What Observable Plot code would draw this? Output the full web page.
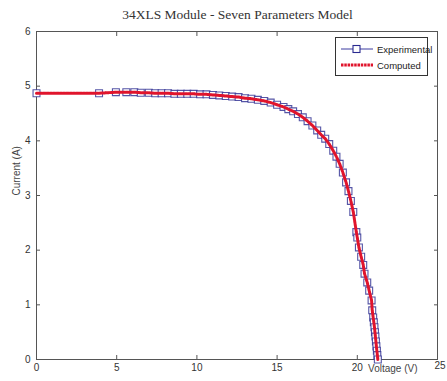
<!DOCTYPE html>
<html><head><meta charset="utf-8">
<script src="https://cdn.jsdelivr.net/npm/d3@7"></script>
<script src="https://cdn.jsdelivr.net/npm/@observablehq/plot@0.6"></script>
<style>
body{margin:0;background:#fff;width:447px;height:381px;overflow:hidden;position:relative;font-family:"Liberation Sans",Arial,sans-serif}
#title{height:24px;line-height:30px;text-align:center;font-family:"Liberation Serif","Times New Roman",serif;font-size:13.5px;color:#333;padding-left:28px}
#legend{position:absolute;left:335px;top:37px;width:93px;height:39px;border:1px solid #333;background:#fff;box-sizing:border-box;font-size:9.5px;color:#222}
#legend .row{position:absolute;left:4px;height:14px;display:flex;align-items:center}
#legend svg{margin-right:3px}
</style></head><body>
<div id="title">34XLS Module - Seven Parameters Model</div>
<div id="chart"></div>
<div id="legend">
 <div class="row" style="top:4px"><svg width="34" height="12"><line x1="1" y1="6" x2="33" y2="6" stroke="#3a3aa0" stroke-width="1"/><rect x="13" y="2.5" width="7" height="7" fill="#fff" stroke="#2a2a90" stroke-width="1.1"/></svg><span>Experimental</span></div>
 <div class="row" style="top:20px"><svg width="34" height="12"><line x1="1" y1="6" x2="33" y2="6" stroke="#e0142c" stroke-width="3" stroke-dasharray="2.5,0.8"/></svg><span>Computed</span></div>
</div>
<script>
const voltage = [0, 3.9, 4.95, 5.6, 6.1, 6.5, 7.0, 7.4, 7.8, 8.2, 8.6, 9.0, 9.4, 9.8, 10.2, 10.6, 11.0, 11.4, 11.8, 12.2, 12.6, 13.0, 13.4, 13.8, 14.2, 14.6, 15.0, 15.4, 15.7, 16.0, 16.3, 16.6, 16.9, 17.2, 17.5, 17.75, 18.0, 18.25, 18.5, 18.7, 18.9, 19.1, 19.3, 19.45, 19.6, 19.75, 19.94, 20.0, 20.1, 20.24, 20.37, 20.45, 20.62, 20.74, 20.89, 20.93, 20.99, 21.03, 21.07, 21.1, 21.13, 21.16, 21.19, 21.22, 21.25, 21.28];
const current = [4.87, 4.87, 4.89, 4.89, 4.89, 4.88, 4.88, 4.87, 4.87, 4.87, 4.86, 4.86, 4.86, 4.86, 4.85, 4.85, 4.84, 4.83, 4.82, 4.81, 4.80, 4.78, 4.77, 4.75, 4.73, 4.70, 4.66, 4.62, 4.58, 4.54, 4.49, 4.43, 4.36, 4.28, 4.19, 4.11, 4.04, 3.94, 3.82, 3.71, 3.58, 3.42, 3.24, 3.08, 2.90, 2.70, 2.33, 2.23, 2.05, 1.88, 1.73, 1.57, 1.41, 1.26, 1.08, 0.90, 0.77, 0.68, 0.59, 0.50, 0.42, 0.33, 0.24, 0.16, 0.08, 0.0];
const xTicks = [0, 5, 10, 15, 20, 25];
const yTicks = [0, 1, 2, 3, 4, 5, 6];

const data = voltage.map((v, i) => ({v, i: current[i]}));

const chart = Plot.plot({
  width: 447,
  height: 357,
  marginTop: 7,
  marginBottom: 22,
  marginLeft: 36,
  marginRight: 10,
  style: {fontFamily: "'Liberation Sans', Arial, sans-serif", fontSize: "10px", color: "#333", background: "#fff"},
  x: {domain: [0, 25], ticks: xTicks},
  y: {domain: [0, 6], ticks: yTicks},
  marks: [
    Plot.frame({stroke: "#555", strokeWidth: 1}),
    Plot.axisX(xTicks.filter(d => d !== 25), {anchor: "bottom", tickSize: 0, tickPadding: 4, tickFormat: "d", label: null, stroke: null, fill: "#333"}),
    Plot.text([25], {x: d => d, frameAnchor: "bottom", dy: 9, fill: "#333", fontSize: 10, textAnchor: "start", dx: -3}),
    Plot.axisX(xTicks, {anchor: "bottom", tickSize: -4, tickFormat: () => "", label: null, stroke: "#555"}),
    Plot.axisX(xTicks, {anchor: "top", tickSize: -4, tickFormat: () => "", label: null, stroke: "#555"}),
    Plot.axisY(yTicks, {anchor: "left", tickSize: 0, tickPadding: 6, tickFormat: "d", label: null, fill: "#333"}),
    Plot.axisY(yTicks, {anchor: "left", tickSize: -4, tickFormat: () => "", label: null, stroke: "#555"}),
    Plot.axisY(yTicks, {anchor: "right", tickSize: -4, tickFormat: () => "", label: null, stroke: "#555"}),
    Plot.text(["Current (A)"], {frameAnchor: "left", dx: -20, rotate: -90, fill: "#444", fontSize: 10}),
    Plot.text(["Voltage (V)"], {frameAnchor: "bottom-right", dx: -20, dy: 12, fill: "#444", fontSize: 10, textAnchor: "end"}),
    Plot.dot(data, {x: "v", y: "i", symbol: "square", r: 3.9, stroke: "#2a2a90", strokeOpacity: 0.8, strokeWidth: 1.1, fill: "#fff"}),
    Plot.line(data, {x: "v", y: "i", stroke: "#e0142c", strokeWidth: 3, strokeDasharray: "2.5,0.8"})
  ]
});
document.getElementById("chart").appendChild(chart);
</script>
</body></html>
